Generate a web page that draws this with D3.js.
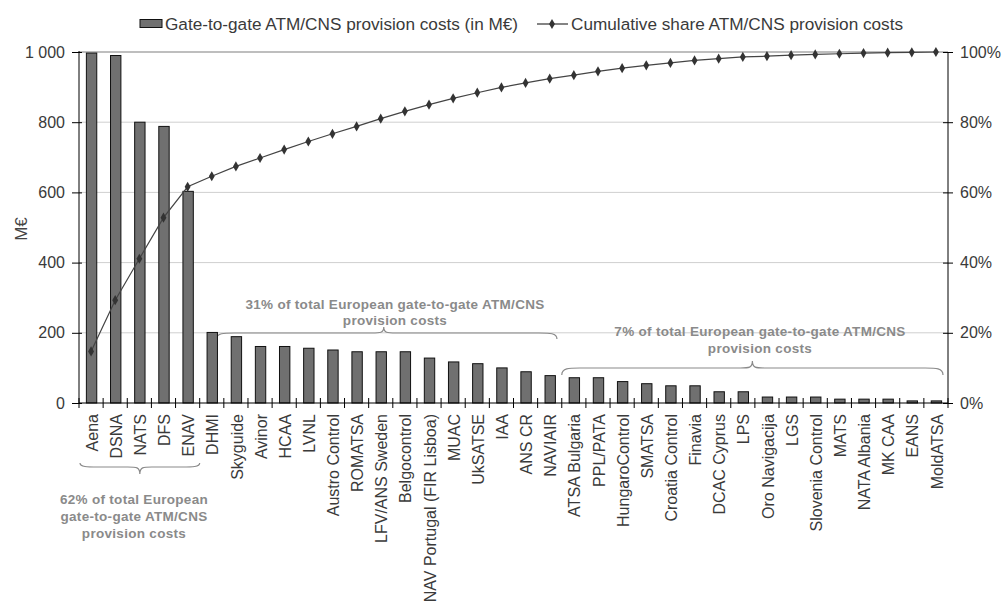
<!DOCTYPE html>
<html><head><meta charset="utf-8">
<script src="https://cdn.jsdelivr.net/npm/d3@7"></script>
<style>body{margin:0;background:#fff}svg{font-family:"Liberation Sans",Arial,sans-serif}</style>
</head><body><svg id="c" width="1007" height="601"></svg>
<script>
const categories = ["Aena","DSNA","NATS","DFS","ENAV","DHMI","Skyguide","Avinor","HCAA","LVNL","Austro Control","ROMATSA","LFV/ANS Sweden","Belgocontrol","NAV Portugal (FIR Lisboa)","MUAC","UkSATSE","IAA","ANS CR","NAVIAIR","ATSA Bulgaria","PPL/PATA","HungaroControl","SMATSA","Croatia Control","Finavia","DCAC Cyprus","LPS","Oro Navigacija","LGS","Slovenia Control","MATS","NATA Albania","MK CAA","EANS","MoldATSA"];
const costs = [997,990,800,788,603,201,189,161,161,156,151,146,146,146,128,117,112,100,89,78,72,72,61,55,49,49,32,32,17,17,17,11,11,11,6,6];
const cumulativeShare = [14.7,29.3,41.1,52.8,61.6,64.6,67.4,69.8,72.2,74.5,76.7,78.8,81.0,83.1,85.0,86.8,88.4,89.9,91.2,92.4,93.4,94.5,95.4,96.2,96.9,97.6,98.1,98.6,98.8,99.1,99.3,99.5,99.7,99.8,99.9,100];
const leftTicks = [0,200,400,600,800,1000];
const leftTickLabels = ["0","200","400","600","800","1 000"];
const rightTicks = [0,20,40,60,80,100];
const rightTickLabels = ["0%","20%","40%","60%","80%","100%"];
const legendLabels = ["Gate-to-gate ATM/CNS provision costs (in M\u20ac)","Cumulative share ATM/CNS provision costs"];
const yTitle = "M\u20ac";
const groupTexts = [
  ["62% of total European","gate-to-gate ATM/CNS","provision costs"],
  ["31% of total European gate-to-gate ATM/CNS","provision costs"],
  ["7% of total European gate-to-gate ATM/CNS","provision costs"]
];
const groupRanges = [["Aena","ENAV"],["DHMI","NAVIAIR"],["ATSA Bulgaria","MoldATSA"]];

const svg = d3.select("#c");
const L = 79, R = 948, T = 52, B = 403;
const x = d3.scaleBand().domain(categories).range([L, R]).padding(0);
const bw = x.bandwidth();
const y = d3.scaleLinear().domain([0, 1000]).range([B, T]);
const y2 = d3.scaleLinear().domain([0, 100]).range([B, T]);
const textCol = "#3a3a3a";

// gridlines
svg.append("g").selectAll("line").data(leftTicks.filter(d => d > 0)).join("line")
  .attr("x1", L).attr("x2", R).attr("y1", d => y(d)).attr("y2", d => y(d))
  .attr("stroke", d => d === 1000 ? "#a8a8a8" : "#cfcfcf")
  .attr("stroke-width", d => d === 1000 ? 1.6 : 1);

// annotations (text + braces)
const annCol = "#8a8a8a";
function brace(x0, x1, yEnd, yMid, yTip, xTip) {
  const ew = 18, tw = 12;
  return `M${x0},${yEnd} C${x0},${yMid} ${x0 + ew * 0.4},${yMid} ${x0 + ew},${yMid}` +
    ` L${xTip - tw},${yMid} C${xTip - tw * 0.3},${yMid} ${xTip},${yMid} ${xTip},${yTip}` +
    ` C${xTip},${yMid} ${xTip + tw * 0.3},${yMid} ${xTip + tw},${yMid}` +
    ` L${x1 - ew},${yMid} C${x1 - ew * 0.4},${yMid} ${x1},${yMid} ${x1},${yEnd}`;
}
const ann = svg.append("g").attr("fill", "none").attr("stroke", annCol).attr("stroke-width", 1.2);
{
  const x0 = x(groupRanges[0][0]) + 1, x1 = x(groupRanges[0][1]) + bw;
  ann.append("path").attr("d", brace(x0, x1, 463, 467, 474, (x0 + x1) / 2));
}
{
  const x0 = x(groupRanges[1][0]) + bw * 0.7, x1 = x(groupRanges[1][1]) + bw * 0.8;
  ann.append("path").attr("d", brace(x0, x1, 339, 333, 327, (x0 + x1) / 2 - 3));
}
{
  const x0 = x(groupRanges[2][0]), x1 = x(groupRanges[2][1]) + bw - 5;
  ann.append("path").attr("d", brace(x0, x1, 375, 368, 361, (x0 + x1) / 2));
}
const annText = svg.append("g").attr("fill", annCol).attr("font-weight", "bold")
  .attr("font-size", 13.5).attr("text-anchor", "middle");
const annPos = [[134, [504, 521, 538]], [395, [308.5, 325]], [760, [336, 353]]];
groupTexts.forEach((lines, i) => {
  lines.forEach((t, j) => {
    annText.append("text").attr("x", annPos[i][0]).attr("y", annPos[i][1][j])
      .attr("letter-spacing", 0.3).text(t);
  });
});

// bars
const barW = bw * 0.43;
svg.append("g").selectAll("rect").data(categories).join("rect")
  .attr("x", d => x(d) + (bw - barW) / 2 + 0.5)
  .attr("width", barW)
  .attr("y", (d, i) => y(costs[i]))
  .attr("height", (d, i) => B - y(costs[i]))
  .attr("fill", "#707070").attr("stroke", "#111").attr("stroke-width", 1);

// axes
const gL = svg.append("g").attr("transform", `translate(${L},0)`)
  .call(d3.axisLeft(y).tickValues(leftTicks).tickFormat((d, i) => leftTickLabels[i]).tickSize(7).tickPadding(7));
gL.selectAll(".tick line").attr("x1", 3);
gL.select(".domain").attr("d", `M0,${B}V${T - 1}`);
gL.selectAll("text").attr("font-size", 16).attr("fill", textCol).attr("font-family", "Liberation Sans, Arial, sans-serif");

const gR = svg.append("g").attr("transform", `translate(${R},0)`)
  .call(d3.axisRight(y2).tickValues(rightTicks).tickFormat((d, i) => rightTickLabels[i]).tickSize(5).tickPadding(7));
gR.selectAll(".tick line").attr("x1", -5);
gR.select(".domain").attr("d", `M0,${B}V${T}`);
gR.selectAll("text").attr("font-size", 16).attr("fill", textCol).attr("font-family", "Liberation Sans, Arial, sans-serif");

// x axis
const gX = svg.append("g");
gX.append("line").attr("x1", L).attr("x2", R).attr("y1", B).attr("y2", B).attr("stroke", "#000");
const bounds = categories.map(d => x(d)).concat([R]);
gX.selectAll("line.t").data(bounds).join("line").attr("class", "t")
  .attr("x1", d => d).attr("x2", d => d).attr("y1", B - 5).attr("y2", B + 5).attr("stroke", "#000");
gX.selectAll("text").data(categories).join("text")
  .attr("transform", d => `translate(${x(d) + bw / 2 + 1},${B + 11}) rotate(-90)`)
  .attr("text-anchor", "end").attr("dy", "0.35em")
  .attr("font-size", 16).attr("fill", textCol).text(d => d);

// cumulative line
const line = d3.line().x((d, i) => x(categories[i]) + bw / 2).y(d => y2(d));
svg.append("path").datum(cumulativeShare).attr("d", line)
  .attr("fill", "none").attr("stroke", "#444").attr("stroke-width", 1.2);
svg.append("g").selectAll("path").data(cumulativeShare).join("path")
  .attr("transform", (d, i) => `translate(${x(categories[i]) + bw / 2},${y2(d)})`)
  .attr("d", d3.symbol(d3.symbolDiamond, 30)).attr("fill", "#333");

// y title
svg.append("text").attr("transform", "translate(27,229) rotate(-90)").attr("text-anchor", "middle")
  .attr("font-size", 17).attr("fill", "#444").text(yTitle);

// legend
const lg = svg.append("g");
lg.append("rect").attr("x", 140).attr("y", 19.5).attr("width", 22).attr("height", 8)
  .attr("fill", "#707070").attr("stroke", "#111");
lg.append("text").attr("x", 165).attr("y", 30).attr("font-size", 17.2).attr("fill", textCol).text(legendLabels[0]);
lg.append("line").attr("x1", 537).attr("x2", 568).attr("y1", 24).attr("y2", 24).attr("stroke", "#333").attr("stroke-width", 1.2);
lg.append("path").attr("transform", "translate(552,24)").attr("d", d3.symbol(d3.symbolDiamond, 30)).attr("fill", "#333");
lg.append("text").attr("x", 571).attr("y", 30).attr("font-size", 17.2).attr("fill", textCol).text(legendLabels[1]);
</script></body></html>
